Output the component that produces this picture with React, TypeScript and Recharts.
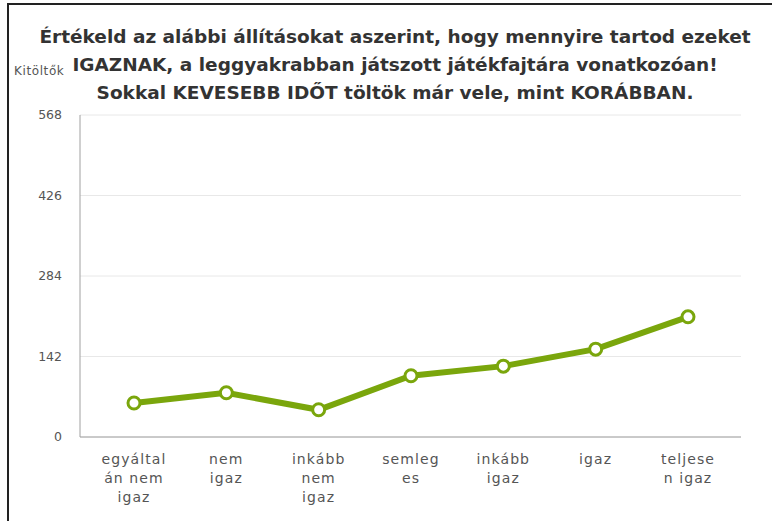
import { LineChart, Line, XAxis, YAxis, CartesianGrid } from "recharts";

// chart data
const categories = ["egyáltalán nem igaz", "nem igaz", "inkább nem igaz", "semleges", "inkább igaz", "igaz", "teljesen igaz"];
// the wrapped tick labels, as the original shows them
const tickLines = [
	["egyáltal", "án nem", "igaz"],
	["nem", "igaz"],
	["inkább", "nem", "igaz"],
	["semleg", "es"],
	["inkább", "igaz"],
	["igaz"],
	["teljese", "n igaz"],
];
const counts = [60, 78, 48, 108, 125, 155, 212];
const yTicks = [0, 142, 284, 426, 568];
const titleLines = [
	"Értékeld az alábbi állításokat aszerint, hogy mennyire tartod ezeket",
	"IGAZNAK, a leggyakrabban játszott játékfajtára vonatkozóan!",
	"Sokkal KEVESEBB IDŐT töltök már vele, mint KORÁBBAN.",
];

const GREEN = "#7aa60c";
const FONT = "'DejaVu Sans', Verdana, sans-serif";

const data = categories.map((c, i) => ({ name: c, value: counts[i] }));

// multi-line category tick
const CategoryTick = (props: any) => {
	const { x, y, index } = props;
	const lines = tickLines[index] || [];
	return (
		<text x={x} y={y} textAnchor="middle" fill="#555" fontSize={14} fontFamily={FONT} letterSpacing={1.1}>
			{lines.map((l, i) => (
				<tspan key={i} x={x} dy={i === 0 ? 19 : 19}>{l}</tspan>
			))}
		</text>
	);
};

export default function App() {
	return (
		<div style={{ position: "absolute", left: 0, top: 0, width: 772, height: 521, background: "#fff", overflow: "hidden", fontFamily: FONT }}>
			{/* frame: top and left edges */}
			<div style={{ position: "absolute", left: 7, top: 3, right: 0, bottom: 0, borderTop: "2px solid #222", borderLeft: "2px solid #222" }} />
			<div style={{ position: "absolute", left: 0, width: 790, top: 23, textAlign: "center", fontWeight: "bold", fontSize: 18.5, lineHeight: "28px", color: "#333" }}>
				{titleLines.map((t, i) => <div key={i}>{t}</div>)}
			</div>
			<div style={{ position: "absolute", left: 14, top: 64, fontSize: 12, color: "#555", letterSpacing: 0.6 }}>Kitöltők</div>
			<LineChart width={772} height={521} data={data} margin={{ top: 115, right: 31, bottom: 0, left: 20 }} style={{ position: "absolute", left: 0, top: 0 }}>
				<CartesianGrid vertical={false} stroke="#e8e8e8" />
				<XAxis dataKey="name" interval={0} tickLine={false} axisLine={{ stroke: "#a0a0a0" }} tick={<CategoryTick />} padding={{ left: 54, right: 53 }} height={84} />
				<YAxis domain={[0, 568]} ticks={yTicks} width={60} tickLine={false} axisLine={{ stroke: "#a0a0a0" }} tickMargin={12} tick={{ fill: "#555", fontSize: 12.5, fontFamily: FONT }} />
				<Line
					type="linear"
					dataKey="value"
					stroke={GREEN}
					strokeWidth={6}
					dot={{ r: 6, fill: "#fff", stroke: GREEN, strokeWidth: 3 }}
					activeDot={false}
					isAnimationActive={false}
				/>
			</LineChart>
		</div>
	);
}
